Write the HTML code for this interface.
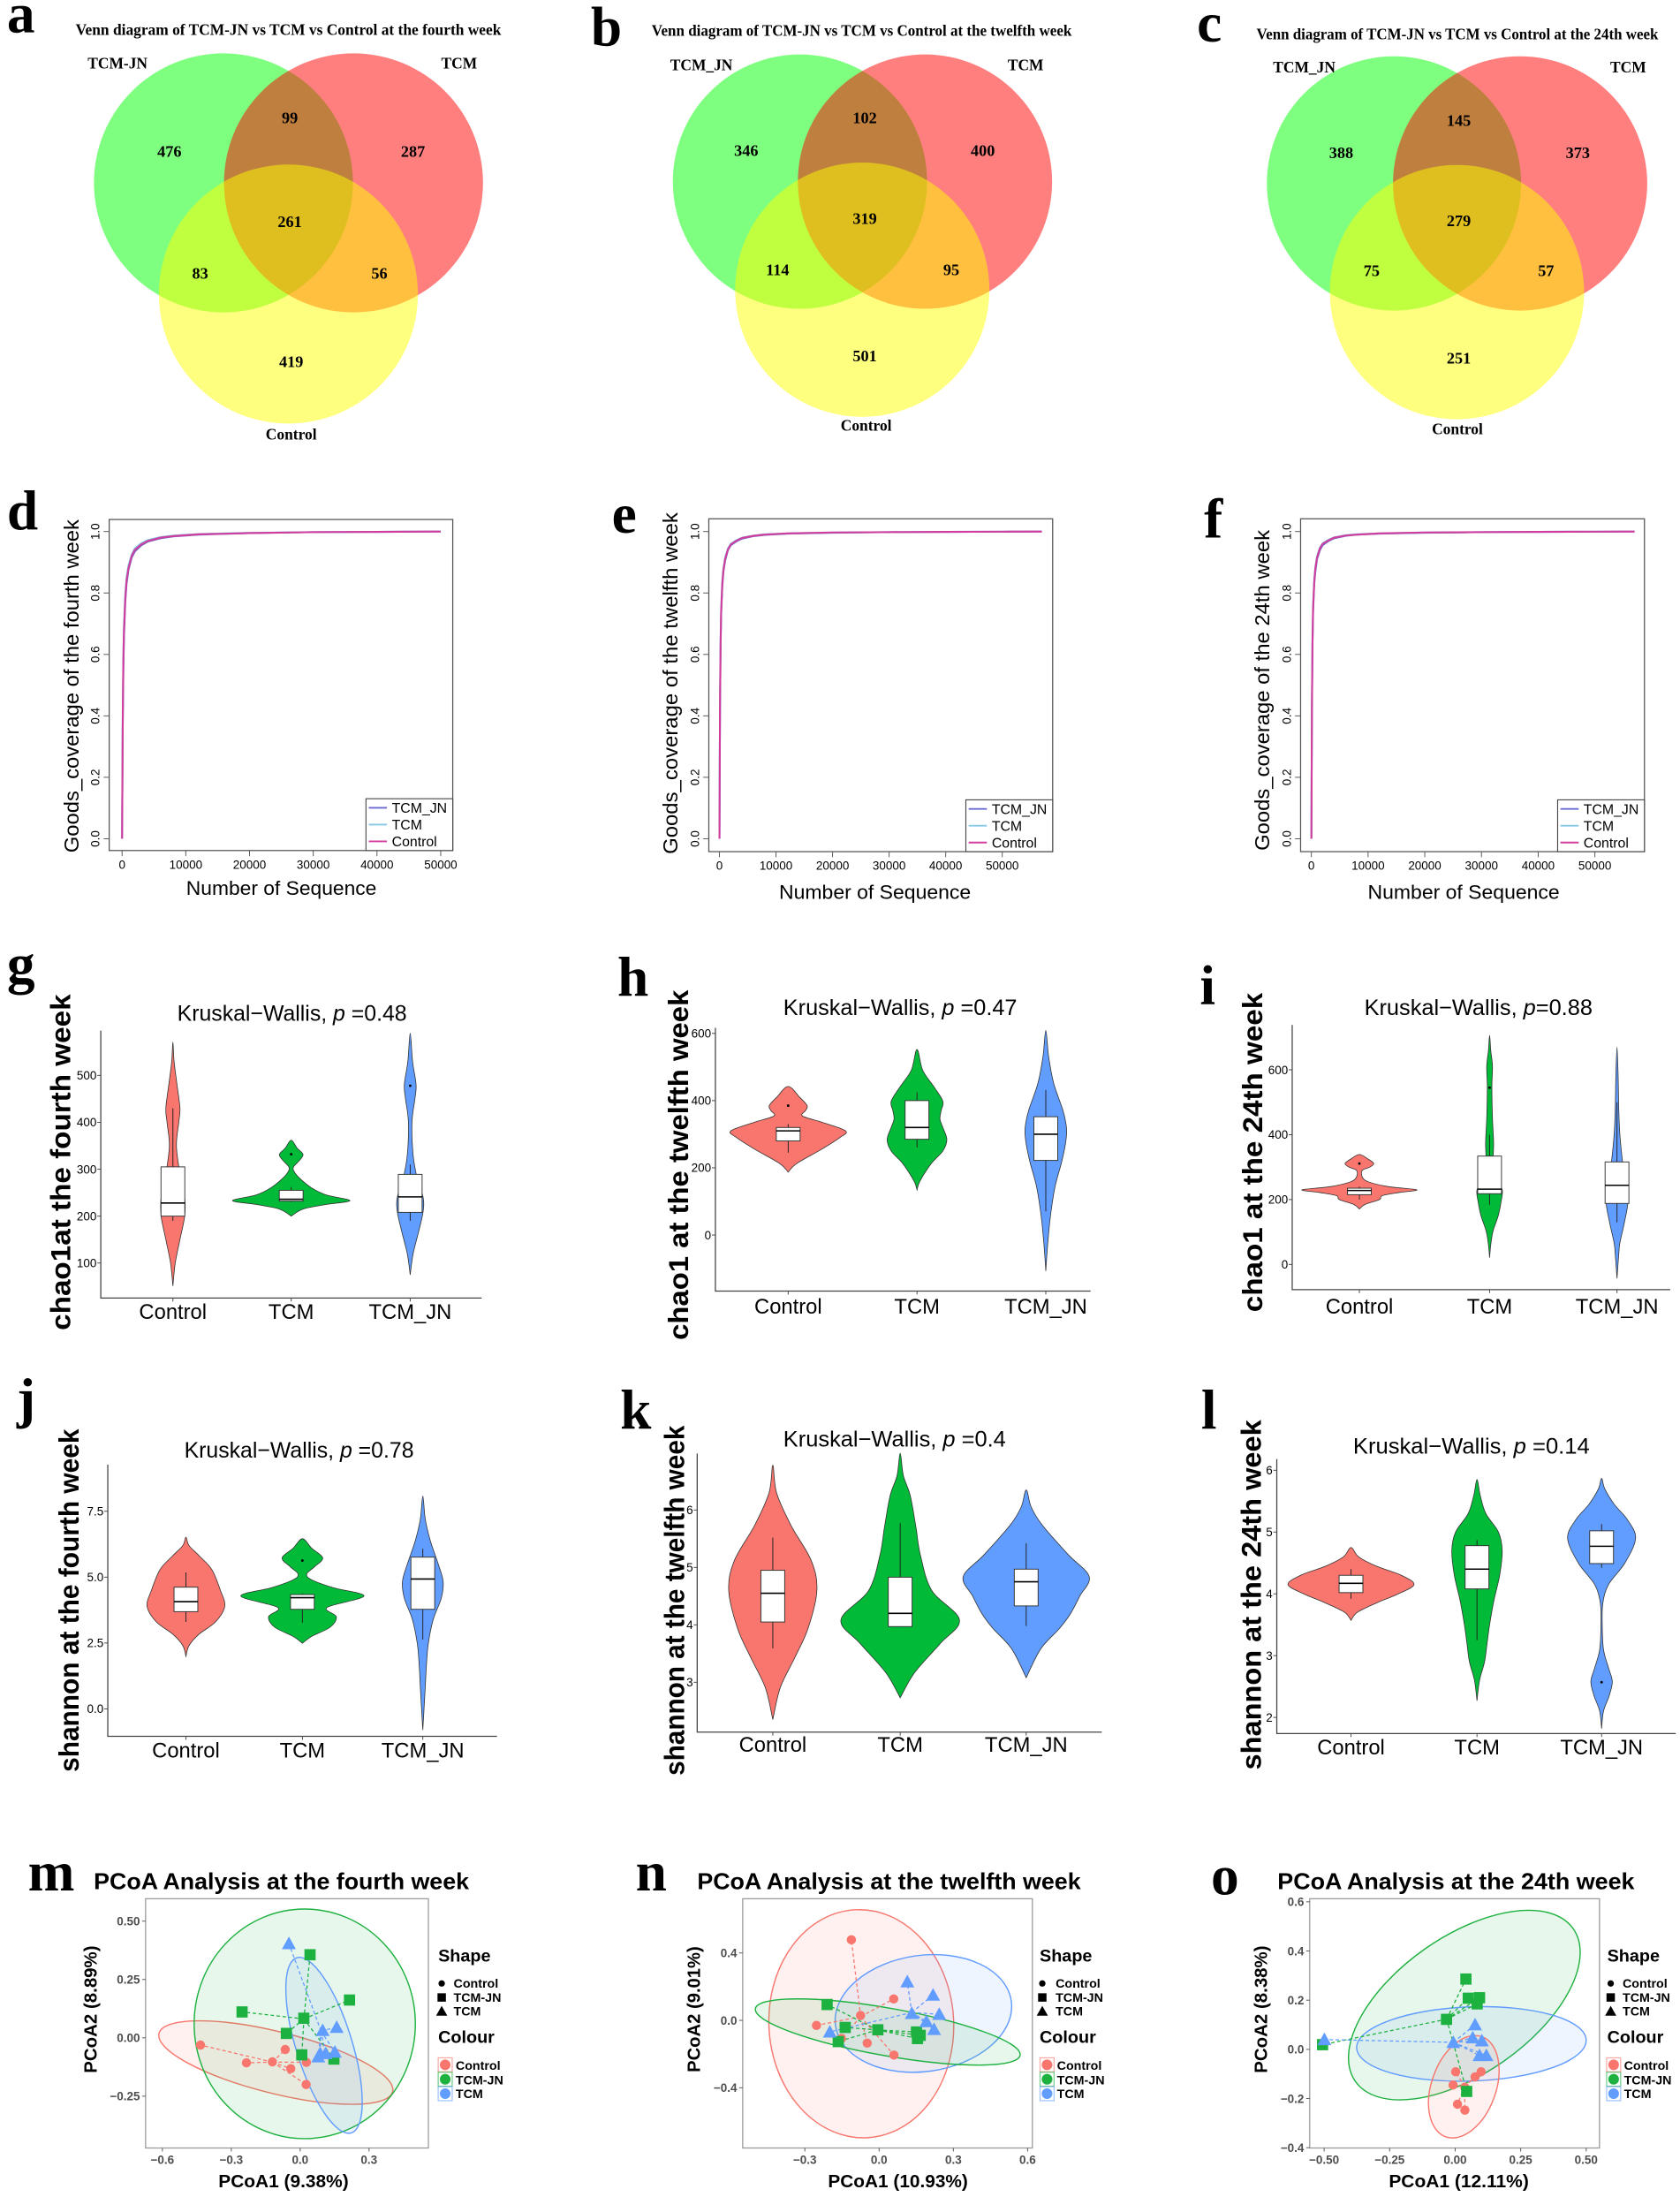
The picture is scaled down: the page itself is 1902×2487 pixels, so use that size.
<!DOCTYPE html>
<html><head><meta charset="utf-8">
<style>
html,body{margin:0;padding:0;background:#fff;}
svg{display:block;font-family:"Liberation Sans",Arial,sans-serif;}
.vs{font-family:"Liberation Serif","Times New Roman",serif;font-weight:bold;}
.letter{font-family:"Liberation Serif","Times New Roman",serif;font-weight:bold;font-size:40px;}
.kw{font-size:16px;}
.cat{font-size:15px;}
.ytl{font-size:20px;font-weight:bold;}
.pt{font-size:16.5px;font-weight:bold;}
.pax{font-size:13px;font-weight:bold;}
.leg{font-size:9px;font-weight:bold;}
.legt{font-size:12.5px;font-weight:bold;}
.rp{font-size:10.5px;font-weight:bold;}
</style></head>
<body>
<svg id="fig" width="1902" height="2487" viewBox="0 0 1200 1569" preserveAspectRatio="none">
<rect x="0" y="0" width="1200" height="1569" fill="#ffffff"/>

<!-- ===== Venn a ===== -->
<g>
<text class="letter" x="5" y="23">a</text>
<text class="vs" x="206" y="25" font-size="11" text-anchor="middle" textLength="304" lengthAdjust="spacingAndGlyphs">Venn diagram of TCM-JN vs TCM vs Control at the fourth week</text>
<circle cx="159.6" cy="130.6" r="92.5" fill="#00ff00" fill-opacity="0.5"/>
<circle cx="252.5" cy="130.6" r="92.5" fill="#ff0000" fill-opacity="0.5"/>
<circle cx="206" cy="210" r="92.5" fill="#ffff00" fill-opacity="0.5"/>
<g class="vs" font-size="11.5" text-anchor="middle">
<text x="121" y="112">476</text>
<text x="207" y="88">99</text>
<text x="295" y="112">287</text>
<text x="207" y="162">261</text>
<text x="143" y="199">83</text>
<text x="271" y="199">56</text>
<text x="208" y="262">419</text>
</g>
<g class="vs" font-size="11" text-anchor="middle">
<text x="84" y="49">TCM-JN</text>
<text x="328" y="49">TCM</text>
<text x="208" y="314">Control</text>
</g>
</g>

<!-- ===== Venn b ===== -->
<g>
<text class="letter" x="422" y="32.5">b</text>
<text class="vs" x="615.5" y="25.5" font-size="11" text-anchor="middle" textLength="300" lengthAdjust="spacingAndGlyphs">Venn diagram of TCM-JN vs TCM vs Control at the twelfth week</text>
<circle cx="571.4" cy="129.7" r="90.8" fill="#00ff00" fill-opacity="0.5"/>
<circle cx="660.7" cy="129.7" r="90.8" fill="#ff0000" fill-opacity="0.5"/>
<circle cx="615.9" cy="206.9" r="90.8" fill="#ffff00" fill-opacity="0.5"/>
<g class="vs" font-size="11.5" text-anchor="middle">
<text x="533" y="111.5">346</text>
<text x="617.7" y="88">102</text>
<text x="702" y="111.5">400</text>
<text x="617.7" y="160">319</text>
<text x="555.4" y="196.5">114</text>
<text x="679.5" y="196.5">95</text>
<text x="617.7" y="258">501</text>
</g>
<g class="vs" font-size="11" text-anchor="middle">
<text x="501" y="50">TCM_JN</text>
<text x="732.6" y="50">TCM</text>
<text x="618.7" y="307.5">Control</text>
</g>
</g>

<!-- ===== Venn c ===== -->
<g>
<text class="letter" x="855" y="29.5">c</text>
<text class="vs" x="1041" y="28" font-size="11" text-anchor="middle" textLength="287" lengthAdjust="spacingAndGlyphs">Venn diagram of TCM-JN vs TCM vs Control at the 24th week</text>
<circle cx="995.7" cy="131" r="90.8" fill="#00ff00" fill-opacity="0.5"/>
<circle cx="1085.8" cy="131" r="90.8" fill="#ff0000" fill-opacity="0.5"/>
<circle cx="1040.7" cy="208.6" r="90.8" fill="#ffff00" fill-opacity="0.5"/>
<g class="vs" font-size="11.5" text-anchor="middle">
<text x="958" y="113">388</text>
<text x="1042" y="90">145</text>
<text x="1127" y="113">373</text>
<text x="1042" y="161.5">279</text>
<text x="979.7" y="197.3">75</text>
<text x="1104.3" y="197.3">57</text>
<text x="1042" y="259.5">251</text>
</g>
<g class="vs" font-size="11" text-anchor="middle">
<text x="931.6" y="51.7">TCM_JN</text>
<text x="1163" y="51.7">TCM</text>
<text x="1041" y="310">Control</text>
</g>
</g>

<!-- ===== Goods coverage static text ===== -->
<text class="letter" x="5" y="378">d</text>
<text class="letter" x="437" y="380.5">e</text>
<text class="letter" x="860" y="384">f</text>
<text x="201" y="639" font-size="14" text-anchor="middle" textLength="136" lengthAdjust="spacingAndGlyphs">Number of Sequence</text>
<text x="625" y="642" font-size="14" text-anchor="middle" textLength="137" lengthAdjust="spacingAndGlyphs">Number of Sequence</text>
<text x="1045.5" y="642" font-size="14" text-anchor="middle" textLength="137" lengthAdjust="spacingAndGlyphs">Number of Sequence</text>
<text transform="translate(56,490) rotate(-90)" font-size="14.5" text-anchor="middle" textLength="238" lengthAdjust="spacingAndGlyphs">Goods_coverage of the fourth week</text>
<text transform="translate(484,488) rotate(-90)" font-size="14.5" text-anchor="middle" textLength="244" lengthAdjust="spacingAndGlyphs">Goods_coverage of the twelfth week</text>
<text transform="translate(906.5,493) rotate(-90)" font-size="14.5" text-anchor="middle" textLength="229" lengthAdjust="spacingAndGlyphs">Goods_coverage of the 24th week</text>

<!-- ===== Violin static text ===== -->
<text class="letter" x="5" y="702">g</text>
<text class="letter" x="441" y="711">h</text>
<text class="letter" x="857" y="717">i</text>
<text class="letter" x="12" y="1012">j</text>
<text class="letter" x="443" y="1020">k</text>
<text class="letter" x="858" y="1020">l</text>

<text class="kw" x="208.6" y="729" text-anchor="middle" textLength="164" lengthAdjust="spacingAndGlyphs">Kruskal−Wallis, <tspan font-style="italic">p</tspan> =0.48</text>
<text class="kw" x="643" y="725" text-anchor="middle" textLength="167" lengthAdjust="spacingAndGlyphs">Kruskal−Wallis, <tspan font-style="italic">p</tspan> =0.47</text>
<text class="kw" x="1056" y="725" text-anchor="middle" textLength="163" lengthAdjust="spacingAndGlyphs">Kruskal−Wallis, <tspan font-style="italic">p</tspan>=0.88</text>
<text class="kw" x="213.6" y="1041" text-anchor="middle" textLength="164" lengthAdjust="spacingAndGlyphs">Kruskal−Wallis, <tspan font-style="italic">p</tspan> =0.78</text>
<text class="kw" x="639" y="1033" text-anchor="middle" textLength="159" lengthAdjust="spacingAndGlyphs">Kruskal−Wallis, <tspan font-style="italic">p</tspan> =0.4</text>
<text class="kw" x="1051" y="1038" text-anchor="middle" textLength="169" lengthAdjust="spacingAndGlyphs">Kruskal−Wallis, <tspan font-style="italic">p</tspan> =0.14</text>

<text class="ytl" transform="translate(50,830) rotate(-90)" text-anchor="middle" textLength="240" lengthAdjust="spacingAndGlyphs">chao1at the fourth week</text>
<text class="ytl" transform="translate(491.5,832) rotate(-90)" text-anchor="middle" textLength="250" lengthAdjust="spacingAndGlyphs">chao1 at the twelfth week</text>
<text class="ytl" transform="translate(901.5,823) rotate(-90)" text-anchor="middle" textLength="228" lengthAdjust="spacingAndGlyphs">chao1 at the 24th week</text>
<text class="ytl" transform="translate(56,1143) rotate(-90)" text-anchor="middle" textLength="245" lengthAdjust="spacingAndGlyphs">shannon at the fourth week</text>
<text class="ytl" transform="translate(488.5,1143) rotate(-90)" text-anchor="middle" textLength="250" lengthAdjust="spacingAndGlyphs">shannon at the twelfth week</text>
<text class="ytl" transform="translate(900.5,1139) rotate(-90)" text-anchor="middle" textLength="250" lengthAdjust="spacingAndGlyphs">shannon at the 24th week</text>

<!-- ===== PCoA static text ===== -->
<text class="letter" x="20" y="1350">m</text>
<text class="letter" x="454" y="1350">n</text>
<text class="letter" x="865" y="1353">o</text>
<text class="pt" x="201" y="1349" text-anchor="middle" textLength="268" lengthAdjust="spacingAndGlyphs">PCoA Analysis at the fourth week</text>
<text class="pt" x="635" y="1349" text-anchor="middle" textLength="274" lengthAdjust="spacingAndGlyphs">PCoA Analysis at the twelfth week</text>
<text class="pt" x="1040" y="1349" text-anchor="middle" textLength="255" lengthAdjust="spacingAndGlyphs">PCoA Analysis at the 24th week</text>
<text class="pax" x="202.5" y="1562" text-anchor="middle" textLength="93" lengthAdjust="spacingAndGlyphs">PCoA1 (9.38%)</text>
<text class="pax" x="641.4" y="1562" text-anchor="middle" textLength="100" lengthAdjust="spacingAndGlyphs">PCoA1 (10.93%)</text>
<text class="pax" x="1042" y="1562" text-anchor="middle" textLength="100" lengthAdjust="spacingAndGlyphs">PCoA1 (12.11%)</text>
<text class="pax" transform="translate(69,1435) rotate(-90)" text-anchor="middle" textLength="91" lengthAdjust="spacingAndGlyphs">PCoA2 (8.89%)</text>
<text class="pax" transform="translate(500,1435) rotate(-90)" text-anchor="middle" textLength="90" lengthAdjust="spacingAndGlyphs">PCoA2 (9.01%)</text>
<text class="pax" transform="translate(905,1435) rotate(-90)" text-anchor="middle" textLength="91" lengthAdjust="spacingAndGlyphs">PCoA2 (8.38%)</text>
<text class="rp" x="113" y="1516">R=0.0868</text>
<text class="rp" x="116" y="1531.5">P=0.069</text>
<text class="rp" x="533" y="1514">R=0.1251</text>
<text class="rp" x="536" y="1529.5"><tspan font-style="italic">P</tspan>=0.038</text>
<text class="rp" x="943" y="1513">R=0.2572</text>
<text class="rp" x="947" y="1529.5"><tspan font-style="italic">P</tspan>=0.002</text>

<g id="legm">
<text class="legt" x="313" y="1401">Shape</text>
<text class="leg" x="324" y="1419.5">Control</text>
<text class="leg" x="324" y="1429.5">TCM-JN</text>
<text class="leg" x="324" y="1439.5">TCM</text>
<text class="legt" x="313" y="1459">Colour</text>
<text class="leg" x="325.5" y="1478">Control</text>
<text class="leg" x="325.5" y="1488.5">TCM-JN</text>
<text class="leg" x="325.5" y="1498.5">TCM</text>
</g>
<g id="legn">
<text class="legt" x="742.6" y="1401">Shape</text>
<text class="leg" x="754" y="1419.5">Control</text>
<text class="leg" x="754" y="1429.5">TCM-JN</text>
<text class="leg" x="754" y="1439.5">TCM</text>
<text class="legt" x="742.6" y="1459">Colour</text>
<text class="leg" x="755" y="1478">Control</text>
<text class="leg" x="755" y="1488.5">TCM-JN</text>
<text class="leg" x="755" y="1498.5">TCM</text>
</g>
<g id="lego">
<text class="legt" x="1148" y="1401">Shape</text>
<text class="leg" x="1159" y="1419.5">Control</text>
<text class="leg" x="1159" y="1429.5">TCM-JN</text>
<text class="leg" x="1159" y="1439.5">TCM</text>
<text class="legt" x="1148" y="1459">Colour</text>
<text class="leg" x="1160" y="1478">Control</text>
<text class="leg" x="1160" y="1488.5">TCM-JN</text>
<text class="leg" x="1160" y="1498.5">TCM</text>
</g>
</svg>

<script>
// ================= DATA =================
const goodsSeqD = [0,100,200,300,500,700,1000,1500,2000,3000,4000,6000,8000,12000,20000,30000,40000,50000];
const dCovJN   = [0,0.35,0.55,0.66,0.77,0.83,0.875,0.915,0.935,0.955,0.967,0.978,0.984,0.99,0.995,0.998,0.999,1.0];
const dCovTCM  = [0,0.40,0.60,0.70,0.80,0.85,0.89,0.925,0.945,0.962,0.972,0.982,0.987,0.992,0.996,0.998,0.999,1.0];
const dCovCtrl = [0,0.38,0.58,0.68,0.78,0.84,0.88,0.92,0.94,0.958,0.969,0.98,0.985,0.991,0.995,0.998,0.999,1.0];
const goodsSeqEF = [0,100,200,300,500,700,1000,1500,2000,3000,4000,6000,8000,12000,20000,30000,40000,50000,57000];
const eCovJN   = [0,0.42,0.62,0.73,0.82,0.87,0.905,0.94,0.955,0.968,0.977,0.985,0.989,0.993,0.996,0.998,0.999,0.9995,1.0];
const eCovTCM  = [0,0.45,0.65,0.75,0.84,0.88,0.915,0.945,0.96,0.972,0.98,0.987,0.991,0.994,0.997,0.998,0.999,0.9995,1.0];
const eCovCtrl = [0,0.44,0.64,0.74,0.83,0.875,0.91,0.942,0.958,0.97,0.979,0.986,0.99,0.994,0.997,0.998,0.999,0.9995,1.0];
const fCovJN   = [0,0.43,0.63,0.74,0.83,0.87,0.91,0.94,0.956,0.969,0.978,0.986,0.99,0.993,0.996,0.998,0.999,0.9995,1.0];
const fCovTCM  = [0,0.46,0.66,0.76,0.845,0.885,0.92,0.948,0.962,0.973,0.981,0.988,0.991,0.994,0.997,0.998,0.999,0.9995,1.0];
const fCovCtrl = [0,0.44,0.645,0.75,0.835,0.88,0.915,0.945,0.96,0.971,0.98,0.987,0.99,0.994,0.997,0.998,0.999,0.9995,1.0];
const goodsYTicks = [0,0.2,0.4,0.6,0.8,1.0];
const goodsYTickLabels = ['0.0','0.2','0.4','0.6','0.8','1.0'];
const goodsXTicks = [0,10000,20000,30000,40000,50000];
const goodsSeries = ['TCM_JN','TCM','Control'];

const groupCats = ['Control','TCM','TCM_JN'];
const gCtrlDens = [[51,0],[100,0.04],[150,0.12],[200,0.2],[240,0.2],[290,0.12],[350,0.06],[400,0.1],[430,0.12],[480,0.07],[530,0.02],[571,0]];
const gTcmDens  = [[200,0],[215,0.2],[225,0.6],[233,1],[245,0.6],[260,0.35],[280,0.15],[295,0.05],[305,0.04],[320,0.15],[332,0.2],[345,0.1],[362,0]];
const gJnDens   = [[75,0],[120,0.05],[170,0.15],[210,0.22],[240,0.22],[280,0.12],[330,0.05],[400,0.03],[450,0.08],[480,0.1],[530,0.04],[590,0]];
const gBoxes = [[190,200,228,305,430],[230,232,236,255,262],[190,208,241,289,310]];
const gOutliers = [[1,332],[2,478]];
const gTicks = [100,200,300,400,500];

const hCtrlDens = [[187,0],[213,0.15],[257,0.6],[290,0.9],[310,1],[335,0.6],[354,0.25],[370,0.3],[385,0.33],[410,0.2],[442,0]];
const hTcmDens  = [[134,0],[160,0.05],[213,0.25],[250,0.45],[284,0.52],[320,0.45],[345,0.4],[370,0.42],[398,0.45],[440,0.3],[490,0.1],[552,0]];
const hJnDens   = [[-107,0],[-33,0.03],[55,0.08],[143,0.16],[220,0.28],[280,0.35],[319,0.36],[370,0.3],[450,0.14],[530,0.05],[609,0]];
const hBoxes = [[245,280,310,320,330],[260,285,320,400,425],[70,222,300,352,432]];
const hOutliers = [[0,385]];
const hTicks = [0,200,400,600];

const iCtrlDens = [[171,0],[185,0.1],[200,0.35],[212,0.4],[222,0.7],[230,1],[240,0.5],[255,0.15],[270,0.05],[290,0.05],[300,0.18],[311,0.25],[325,0.15],[339,0]];
const iTcmDens  = [[21,0],[60,0.02],[103,0.06],[150,0.15],[193,0.2],[230,0.22],[260,0.12],[300,0.06],[374,0.07],[450,0.05],[547,0.04],[611,0.05],[660,0.02],[706,0]];
const iJnDens   = [[-43,0],[30,0.03],[66,0.05],[130,0.13],[193,0.19],[250,0.15],[311,0.1],[400,0.05],[484,0.03],[580,0.02],[670,0]];
const iBoxes = [[200,215,228,235,240],[184,218,232,334,400],[130,188,244,316,500]];
const iOutliers = [[0,311],[1,545]];
const iTicks = [0,200,400,600];

const jCtrlDens = [[1.99,0],[2.4,0.05],[2.83,0.21],[3.3,0.48],[3.89,0.63],[4.5,0.56],[5.29,0.42],[5.8,0.22],[6.2,0.05],[6.52,0]];
const jTcmDens  = [[2.49,0],[2.75,0.15],[3.1,0.45],[3.5,0.55],[3.85,0.4],[4.28,1],[4.6,0.5],[4.9,0.15],[5.12,0.07],[5.4,0.2],[5.73,0.33],[6.1,0.15],[6.46,0]];
const jJnDens   = [[-0.8,0],[0,0.02],[0.82,0.04],[1.7,0.06],[2.49,0.09],[3.4,0.17],[4.2,0.3],[4.84,0.33],[5.5,0.25],[6.4,0.12],[7.2,0.04],[8.08,0]];
const jBoxes = [[3.3,3.69,4.07,4.62,5.18],[3.27,3.78,4.22,4.34,4.38],[2.63,3.78,4.93,5.76,6.08]];
const jOutliers = [[1,5.63]];
const jTicks = [0,2.5,5,7.5];
const jTickLabels = ['0.0','2.5','5.0','7.5'];

const kCtrlDens = [[2.35,0],[2.91,0.12],[3.43,0.35],[3.94,0.56],[4.6,0.7],[5.12,0.61],[5.73,0.29],[6.3,0.06],[6.78,0]];
const kTcmDens  = [[2.73,0],[3.17,0.23],[3.68,0.64],[4.09,0.94],[4.6,0.5],[5.22,0.32],[5.7,0.25],[6.25,0.16],[6.6,0.05],[6.99,0]];
const kJnDens   = [[3.08,0],[3.58,0.23],[3.94,0.53],[4.19,0.7],[4.5,0.85],[4.84,1],[5.22,0.67],[5.73,0.26],[6.05,0.08],[6.35,0]];
const kBoxes = [[3.59,4.05,4.55,4.95,5.52],[3.96,3.97,4.2,4.83,5.77],[3.98,4.33,4.75,4.97,5.42]];
const kOutliers = [];
const kTicks = [3,4,5,6];

const lCtrlDens = [[3.57,0],[3.7,0.1],[3.85,0.4],[4.0,0.75],[4.15,1],[4.3,0.8],[4.45,0.4],[4.6,0.12],[4.75,0]];
const lTcmDens  = [[2.27,0],[2.6,0.04],[2.9,0.12],[3.2,0.16],[3.5,0.2],[3.9,0.27],[4.3,0.36],[4.7,0.4],[5.0,0.34],[5.3,0.14],[5.6,0.05],[5.85,0]];
const lJnDens   = [[1.82,0],[2.1,0.03],[2.35,0.12],[2.58,0.17],[2.8,0.11],[3.1,0.03],[3.5,0.01],[3.85,0.02],[4.15,0.11],[4.5,0.37],[4.9,0.54],[5.2,0.41],[5.45,0.2],[5.7,0.05],[5.87,0]];
const lBoxes = [[3.92,4.02,4.17,4.3,4.4],[3.25,4.08,4.4,4.78,4.87],[4.42,4.49,4.77,5.02,5.13]];
const lOutliers = [[2,2.57]];
const lTicks = [2,3,4,5,6];

const mCtrlX = [-0.434,-0.234,-0.121,-0.065,-0.041,0.027,0.026];
const mCtrlY = [-0.031,-0.107,-0.103,-0.05,-0.132,-0.105,-0.2];
const mJnX = [-0.253,-0.06,0.007,0.043,0.016,0.215,0.147];
const mJnY = [0.111,0.019,-0.073,0.356,0.084,0.162,-0.091];
const mTcmX = [-0.049,0.098,0.159,0.087,0.111,0.151,0.079];
const mTcmY = [0.404,0.032,0.045,-0.067,-0.067,-0.061,-0.081];
const mXTicks = [-0.6,-0.3,0.0,0.3];
const mXTickLabels = ['−0.6','−0.3','0.0','0.3'];
const mYTicks = [0.5,0.25,0,-0.25];
const mYTickLabels = ['0.50','0.25','0.00','−0.25'];

const nCtrlX = [-0.112,0.059,-0.075,-0.253,-0.152,-0.048,0.06];
const nCtrlY = [0.478,0.127,0.029,-0.03,-0.108,-0.135,-0.206];
const nJnX = [-0.21,-0.137,-0.165,-0.005,0.151,0.166,0.155];
const nJnY = [0.094,-0.042,-0.126,-0.056,-0.069,-0.089,-0.108];
const nTcmX = [0.114,0.218,0.243,0.132,0.191,0.222,-0.199];
const nTcmY = [0.229,0.15,0.036,0.041,-0.007,-0.054,-0.069];
const nXTicks = [-0.3,0.0,0.3,0.6];
const nXTickLabels = ['−0.3','0.0','0.3','0.6'];
const nYTicks = [0.4,0.0,-0.4];
const nYTickLabels = ['0.4','0.0','−0.4'];

const oCtrlX = [0.002,-0.008,0.076,0.099,0.037,0.009,0.037];
const oCtrlY = [-0.091,-0.145,-0.112,-0.091,-0.154,-0.223,-0.247];
const oJnX = [-0.506,-0.033,0.041,0.05,0.093,0.084,0.044];
const oJnY = [0.019,0.122,0.286,0.208,0.21,0.185,-0.171];
const oTcmX = [-0.499,-0.007,0.076,0.067,0.102,0.093,0.119];
const oTcmY = [0.04,0.028,0.1,0.047,0.035,-0.025,-0.025];
const oXTicks = [-0.5,-0.25,0,0.25,0.5];
const oXTickLabels = ['−0.50','−0.25','0.00','0.25','0.50'];
const oYTicks = [0.6,0.4,0.2,0.0,-0.2,-0.4];
const oYTickLabels = ['0.6','0.4','0.2','0.0','−0.2','−0.4'];

// ================= DRAWING =================
const S = document.getElementById('fig');
const NSURI = S.namespaceURI;
function el(tag, attrs, parent){
  const e = document.createElementNS(NSURI, tag);
  for (const k in attrs) e.setAttribute(k, attrs[k]);
  (parent || S).appendChild(e);
  return e;
}
function lin(d0, r0, d1, r1){ return v => r0 + (v - d0) * (r1 - r0) / (d1 - d0); }
const COL = {Control:'#F8766D', TCM:'#00BA38', TCM_JN:'#619CFF'};

function goodsPanel(name, box, xs, ys, seq, covs){
  const g = el('g', {});
  
  
  const r = el('rect', {x:box[0], y:box[1], width:box[2]-box[0], height:box[3]-box[1], fill:'none', stroke:'#555', 'stroke-width':0.8}, g);
  
  
  goodsYTicks.forEach((t, i) => {
    const tk = el('line', {x1:box[0]-4, x2:box[0], y1:ys(t), y2:ys(t), stroke:'#555', 'stroke-width':0.6}, g);
    
    
    const tl = el('text', {transform:`translate(${box[0]-7},${ys(t)}) rotate(-90)`, 'text-anchor':'middle', 'font-size':8.5}, g);
    tl.textContent = goodsYTickLabels[i];
    
    
  });
  goodsXTicks.forEach(t => {
    const tk = el('line', {x1:xs(t), x2:xs(t), y1:box[3], y2:box[3]+4, stroke:'#555', 'stroke-width':0.6}, g);
    
    
    const tl = el('text', {x:xs(t), y:box[3]+13, 'text-anchor':'middle', 'font-size':8.5}, g);
    tl.textContent = String(t);
    
    
  });
  const lineCols = ['#6a6ad0','#86c8e6','#d23c9c'];
  covs.forEach((cv, si) => {
    const pts = seq.map((s, i) => xs(s).toFixed(2) + ',' + ys(cv[i]).toFixed(2)).join(' ');
    const pl = el('polyline', {points:pts, fill:'none', stroke:lineCols[si], 'stroke-width':1.3}, g);
    
    
  });
  const lx = box[2] - 62, ly = box[3] - 37;
  const lb = el('rect', {x:lx, y:ly, width:62, height:37, fill:'#fff', stroke:'#444', 'stroke-width':0.7}, g);
  
  
  goodsSeries.forEach((s, i) => {
    const yy = ly + 6.5 + i * 12;
    const ln = el('line', {x1:lx+2, x2:lx+15, y1:yy, y2:yy, stroke:lineCols[i], 'stroke-width':1.2}, g);
    
    
    const tx = el('text', {x:lx+18.5, y:yy+3.6, 'font-size':10}, g);
    tx.textContent = s;
    
    
  });
}
goodsPanel('d', [78,371,323.4,607.4], lin(0,87.2,50000,314.8), lin(0,599,1,379.6), goodsSeqD, [dCovJN,dCovTCM,dCovCtrl]);
goodsPanel('e', [506.3,370.5,751.9,608.2], lin(0,513.9,50000,715.9), lin(0,599,1,379.6), goodsSeqEF, [eCovJN,eCovTCM,eCovCtrl]);
goodsPanel('f', [929,370.5,1174.6,608.2], lin(0,936.7,50000,1139.2), lin(0,599,1,379.6), goodsSeqEF, [fCovJN,fCovTCM,fCovCtrl]);

function smoothPath(pts){
  let d = `M${pts[0][0].toFixed(2)},${pts[0][1].toFixed(2)}`;
  for (let i = 0; i < pts.length - 1; i++){
    const p0 = pts[i-1] || pts[i], p1 = pts[i], p2 = pts[i+1], p3 = pts[i+2] || pts[i+1];
    const c1 = [p1[0] + (p2[0]-p0[0])/6, p1[1] + (p2[1]-p0[1])/6];
    const c2 = [p2[0] - (p3[0]-p1[0])/6, p2[1] - (p3[1]-p1[1])/6];
    d += ` C${c1[0].toFixed(2)},${c1[1].toFixed(2)} ${c2[0].toFixed(2)},${c2[1].toFixed(2)} ${p2[0].toFixed(2)},${p2[1].toFixed(2)}`;
  }
  return d + ' Z';
}
function violinPanel(name, cfg, dens, boxes, outliers, ticks, tickLabels){
  const ys = lin(cfg.v0, cfg.p0, cfg.v1, cfg.p1);
  const g = el('g', {});
  
  
  const ax = el('path', {d:`M${cfg.left},${cfg.top} V${cfg.bottom} H${cfg.right}`, fill:'none', stroke:'#444', 'stroke-width':0.8}, g);
  
  
  ticks.forEach((t, i) => {
    const tk = el('line', {x1:cfg.left-2.5, x2:cfg.left, y1:ys(t), y2:ys(t), stroke:'#444', 'stroke-width':0.6}, g);
    
    
    const tl = el('text', {x:cfg.left-3, y:ys(t)+3, 'text-anchor':'end', 'font-size':8.5}, g);
    tl.textContent = tickLabels ? tickLabels[i] : String(t);
    
    
  });
  groupCats.forEach((c, ci) => {
    const cx = cfg.cats[ci];
    const tk = el('line', {x1:cx, x2:cx, y1:cfg.bottom, y2:cfg.bottom+2.5, stroke:'#444', 'stroke-width':0.6}, g);
    
    
    const lab = el('text', {x:cx, y:cfg.labY, 'text-anchor':'middle', class:'cat'}, g);
    lab.textContent = c;
    
    
    const right = dens[ci].map(([v, w]) => [cx + w*cfg.maxHalf, ys(v)]);
    const left = dens[ci].slice(0, -1).reverse().map(([v, w]) => [cx - w*cfg.maxHalf, ys(v)]);
    const vp = el('path', {d:smoothPath(right.concat(left)), fill:COL[c], stroke:'#333', 'stroke-width':0.5}, g);
    
    
    const b = boxes[ci], bh = 8.5;
    const wk = el('line', {x1:cx, x2:cx, y1:ys(b[0]), y2:ys(b[4]), stroke:'#222', 'stroke-width':0.6}, g);
    
    
    const br = el('rect', {x:cx-bh, y:ys(b[3]), width:2*bh, height:ys(b[1])-ys(b[3]), fill:'#fff', stroke:'#333', 'stroke-width':0.6}, g);
    
    
    const md = el('line', {x1:cx-bh, x2:cx+bh, y1:ys(b[2]), y2:ys(b[2]), stroke:'#000', 'stroke-width':1}, g);
    
    
  });
  outliers.forEach(([ci, v]) => {
    const pt = el('circle', {cx:cfg.cats[ci], cy:ys(v), r:0.9, fill:'#000'}, g);
    
    
  });
}
violinPanel('g', {left:72, right:344, top:736, bottom:927, cats:[123.5,208,293], v0:100, p0:902, v1:500, p1:768, maxHalf:42, labY:942}, [gCtrlDens,gTcmDens,gJnDens], gBoxes, gOutliers, gTicks);
violinPanel('h', {left:511, right:779, top:734, bottom:922, cats:[563,655,747], v0:0, p0:882, v1:600, p1:738, maxHalf:41, labY:938}, [hCtrlDens,hTcmDens,hJnDens], hBoxes, hOutliers, hTicks);
violinPanel('i', {left:923, right:1193, top:732, bottom:921, cats:[971,1064,1155], v0:0, p0:903, v1:600, p1:764, maxHalf:41, labY:938}, [iCtrlDens,iTcmDens,iJnDens], iBoxes, iOutliers, iTicks);
violinPanel('j', {left:77, right:355, top:1046, bottom:1240, cats:[132.8,216,302], v0:0, p0:1220.4, v1:7.5, p1:1079.3, maxHalf:44, labY:1255}, [jCtrlDens,jTcmDens,jJnDens], jBoxes, jOutliers, jTicks, jTickLabels);
violinPanel('k', {left:498, right:787, top:1038, bottom:1237, cats:[552,643,733], v0:3, p0:1201.4, v1:6, p1:1078.4, maxHalf:45, labY:1251}, [kCtrlDens,kTcmDens,kJnDens], kBoxes, kOutliers, kTicks);
violinPanel('l', {left:912, right:1197, top:1042, bottom:1238, cats:[965,1055,1144], v0:2, p0:1226.5, v1:6, p1:1050, maxHalf:45, labY:1253}, [lCtrlDens,lTcmDens,lJnDens], lBoxes, lOutliers, lTicks);

const PCOL = {ctrl:'#F8766D', jn:'#1DB13F', tcm:'#619CFF'};
function marker(kind, x, y, color, parent){
  let m;
  if (kind === 'ctrl') m = el('circle', {cx:x, cy:y, r:3.3, fill:color}, parent);
  else if (kind === 'jn') m = el('rect', {x:x-4, y:y-4, width:8, height:8, fill:color}, parent);
  else m = el('path', {d:`M${x},${y-5} L${x+5},${y+4} L${x-5},${y+4} Z`, fill:color}, parent);
  return m;
}
function pcoaPanel(name, box, xs, ys, groups, ellipses, xt, xtl, yt, ytl, legX){
  const g = el('g', {});
  
  
  const fr = el('rect', {x:box[0], y:box[1], width:box[2]-box[0], height:box[3]-box[1], fill:'#fff', stroke:'#999', 'stroke-width':0.8}, g);
  
  
  yt.forEach((t, i) => {
    const tk = el('line', {x1:box[0]-2.5, x2:box[0], y1:ys(t), y2:ys(t), stroke:'#555', 'stroke-width':0.6}, g);
    
    
    const tl = el('text', {x:box[0]-4, y:ys(t)+3, 'text-anchor':'end', 'font-size':8.5, 'font-weight':'bold', fill:'#4d4d4d'}, g);
    tl.textContent = ytl[i];
    
    
  });
  xt.forEach((t, i) => {
    const tk = el('line', {x1:xs(t), x2:xs(t), y1:box[3], y2:box[3]+2.5, stroke:'#555', 'stroke-width':0.6}, g);
    
    
    const tl = el('text', {x:xs(t), y:box[3]+11.5, 'text-anchor':'middle', 'font-size':8.5, 'font-weight':'bold', fill:'#4d4d4d'}, g);
    tl.textContent = xtl[i];
    
    
  });
  ellipses.forEach(e => {
    const cx = xs(e.cx), cy = ys(e.cy);
    const ep = el('ellipse', {cx:cx, cy:cy, rx:e.a, ry:e.b, transform:`rotate(${e.rot} ${cx} ${cy})`, fill:PCOL[e.k], 'fill-opacity':0.1, stroke:PCOL[e.k], 'stroke-width':0.9}, g);
    
    
  });
  groups.forEach(gr => {
    const mx = gr.x.reduce((a, b) => a + b, 0) / gr.x.length;
    const my = gr.y.reduce((a, b) => a + b, 0) / gr.y.length;
    gr.x.forEach((v, i) => {
      const sl = el('line', {x1:xs(mx), y1:ys(my), x2:xs(v), y2:ys(gr.y[i]), stroke:PCOL[gr.k], 'stroke-width':0.8, 'stroke-dasharray':'2.5,1.8'}, g);
      
      
    });
  });
  groups.forEach(gr => {
    gr.x.forEach((v, i) => {
      const mk = marker(gr.k, xs(v), ys(gr.y[i]), PCOL[gr.k], g);
      
      
    });
  });
  const kinds = ['ctrl','jn','tcm'];
  kinds.forEach((k, i) => {
    const s = marker(k, legX.sym, 1416.5 + i*10, '#000', g);
    if (k === 'ctrl') s.setAttribute('r', 2.3);
    if (k === 'jn') { s.setAttribute('x', legX.sym-3); s.setAttribute('y', 1423.5); s.setAttribute('width', 6); s.setAttribute('height', 6); }
    if (k === 'tcm') s.setAttribute('d', `M${legX.sym},${1432.5} L${legX.sym+4},${1439.5} L${legX.sym-4},${1439.5} Z`);
    
    
    const yy = 1474.6 + i*10.3;
    const kb = el('rect', {x:legX.key-5, y:yy-5, width:10, height:10, fill:'#fff', stroke:PCOL[k], 'stroke-opacity':0.6, 'stroke-width':0.8}, g);
    
    
    const kc = el('circle', {cx:legX.key, cy:yy, r:3.8, fill:PCOL[k]}, g);
    
    
  });
}
pcoaPanel('m', [104,1356,306,1534], lin(-0.6,116,0.3,263.6), lin(0.5,1372,-0.25,1497),
  [{k:'ctrl', x:mCtrlX, y:mCtrlY},{k:'jn', x:mJnX, y:mJnY},{k:'tcm', x:mTcmX, y:mTcmY}],
  [{k:'ctrl', cx:-0.106, cy:-0.106, a:86, b:22, rot:14},{k:'jn', cx:0.02, cy:0.06, a:79, b:82, rot:0},{k:'tcm', cx:0.104, cy:-0.032, a:65.5, b:20, rot:72.7}],
  mXTicks, mXTickLabels, mYTicks, mYTickLabels, {sym:315.5, key:318});
pcoaPanel('n', [530.5,1356,737.4,1534], lin(-0.3,574.9,0.6,734), lin(0.4,1394.7,-0.4,1491),
  [{k:'ctrl', x:nCtrlX, y:nCtrlY},{k:'jn', x:nJnX, y:nJnY},{k:'tcm', x:nTcmX, y:nTcmY}],
  [{k:'ctrl', cx:-0.072, cy:-0.02, a:66, b:81.5, rot:-3},{k:'tcm', cx:0.179, cy:0.041, a:63.4, b:41.5, rot:-8},{k:'jn', cx:0.035, cy:-0.069, a:96, b:17, rot:10}],
  nXTicks, nXTickLabels, nYTicks, nYTickLabels, {sym:744.5, key:747.9});
pcoaPanel('o', [935.5,1356,1142.5,1534], lin(-0.5,945.8,0.5,1133), lin(0.6,1358.2,-0.4,1533.8),
  [{k:'ctrl', x:oCtrlX, y:oCtrlY},{k:'jn', x:oJnX, y:oJnY},{k:'tcm', x:oTcmX, y:oTcmY}],
  [{k:'jn', cx:0.035, cy:0.18, a:95, b:49, rot:-35},{k:'tcm', cx:0.062, cy:0.022, a:82, b:26.5, rot:-2},{k:'ctrl', cx:0.033, cy:-0.152, a:38, b:23, rot:-70}],
  oXTicks, oXTickLabels, oYTicks, oYTickLabels, {sym:1150.5, key:1152.6});
['legm','legn','lego'].forEach(id => S.appendChild(document.getElementById(id)));
</script>
</body></html>
